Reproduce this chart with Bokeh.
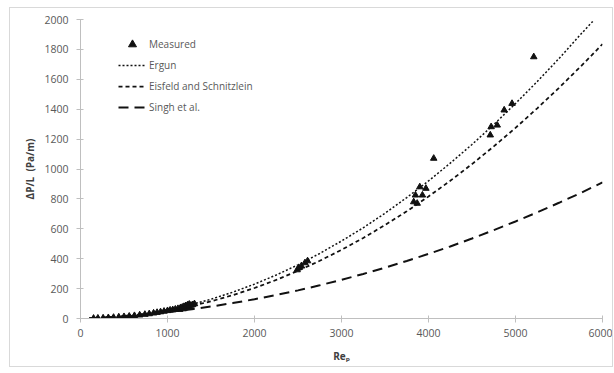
from bokeh.plotting import figure
from bokeh.models import Range1d, FixedTicker, Legend, LegendItem
from bokeh.embed import file_html
from bokeh.resources import INLINE

# Measured data (Re_p, dP/L in Pa/m)
meas_re = [150, 200, 260, 320, 380, 440, 500, 560, 620, 680, 740, 790, 840, 880, 920, 960,
           1000, 1030, 1060, 1090, 1120, 1140, 1150, 1170, 1180, 1190, 1200, 1210, 1220,
           1230, 1240, 1250, 1260, 1270, 1290, 1310,
           2490, 2510, 2540, 2580, 2610,
           3830, 3850, 3870, 3900, 3930, 3970,
           4060, 4710, 4720, 4790, 4870, 4960, 5210]
meas_dp = [1, 2, 3, 5, 7, 10, 12, 15, 19, 23, 27, 31, 36, 40, 44, 48,
           52, 56, 58, 62, 66, 60, 72, 75, 64, 80, 70, 85, 76,
           90, 82, 95, 72, 88, 92, 98,
           325, 340, 350, 372, 385,
           780, 825, 770, 880, 825, 870,
           1071, 1227, 1282, 1293, 1394, 1438, 1750]

# Correlation curves
curve_re = [100, 250, 500, 750, 1000, 1250, 1500, 1750, 2000, 2250, 2500, 2750, 3000,
            3250, 3500, 3750, 4000, 4250, 4500, 4750, 5000, 5250, 5500, 5750, 5900, 6000]
ergun = [1, 4, 14, 32, 58, 90, 129, 176, 230, 291, 359, 435, 518,
         607, 704, 809, 920, 1039, 1164, 1297, 1438, 1585, 1739, 1901, 1995, None]
eisfeld = [0.5, 3, 13, 29, 51, 80, 115, 156, 204, 258, 319, 386, 459,
           539, 625, 717, 816, 921, 1033, 1151, 1275, 1406, 1543, 1686, 1775, 1836]
singh = [2, 7, 16, 28, 43, 60, 80, 103, 129, 157, 188, 222, 259,
         298, 340, 385, 432, 482, 535, 591, 649, 710, 774, 840, 882, 910]

x_ticks = [0, 1000, 2000, 3000, 4000, 5000, 6000]
y_ticks = [0, 200, 400, 600, 800, 1000, 1200, 1400, 1600, 1800, 2000]

FONT = "Open Sans"
AXIS_COL = "#bfbfbf"
TEXT_COL = "#595959"

p = figure(width=604, height=360, output_backend="svg", toolbar_location=None,
           x_range=Range1d(0, 6000), y_range=Range1d(0, 2000),
           min_border_left=70, min_border_right=12, min_border_top=11, min_border_bottom=50)
p.styles = {"border": "1px solid #d9d9d9", "margin-left": "9px", "margin-top": "7px"}
p.outline_line_color = None
p.xgrid.visible = False
p.ygrid.visible = False

for ax in (p.xaxis[0], p.yaxis[0]):
    ax.axis_line_color = AXIS_COL
    ax.major_tick_line_color = AXIS_COL
    ax.minor_tick_line_color = None
    ax.major_tick_in = 3
    ax.major_tick_out = 4
    ax.major_label_text_font = FONT
    ax.major_label_text_font_size = "10.5px"
    ax.major_label_text_color = TEXT_COL
    ax.axis_label_text_font = FONT
    ax.axis_label_text_font_size = "10px"
    ax.axis_label_text_font_style = "bold"
    ax.axis_label_text_color = "#404040"

p.xaxis[0].ticker = FixedTicker(ticks=x_ticks)
p.yaxis[0].ticker = FixedTicker(ticks=y_ticks)
p.xaxis[0].major_label_standoff = 6
p.yaxis[0].major_label_standoff = 8
p.xaxis[0].axis_label = "Reₚ"
p.yaxis[0].axis_label = "ΔP/L\u00a0\u00a0(Pa/m)"
p.xaxis[0].axis_label_standoff = 9
p.yaxis[0].axis_label_standoff = 4

er_x = [r for r, v in zip(curve_re, ergun) if v is not None]
er_y = [v for v in ergun if v is not None]

r_meas = p.scatter(meas_re, meas_dp, marker="triangle", size=6.5, color="#111111")
r_erg = p.line(er_x, er_y, line_color="#111111", line_width=1.5, line_dash="2 2")
r_eis = p.line(curve_re, eisfeld, line_color="#111111", line_width=1.75, line_dash="4 3")
r_sin = p.line(curve_re, singh, line_color="#111111", line_width=2, line_dash="10 6")

legend = Legend(items=[
    LegendItem(label="Measured", renderers=[r_meas]),
    LegendItem(label="Ergun", renderers=[r_erg]),
    LegendItem(label="Eisfeld and Schnitzlein", renderers=[r_eis]),
    LegendItem(label="Singh et al.", renderers=[r_sin]),
], location=(38, 201))
legend.padding = 0
legend.margin = 0
legend.spacing = 1
legend.glyph_height = 20
legend.glyph_width = 28
legend.label_standoff = 3
legend.label_height = 20
legend.label_text_font = FONT
legend.label_text_font_size = "10px"
legend.label_text_color = TEXT_COL
legend.border_line_color = None
legend.background_fill_color = None
p.add_layout(legend, "center")

open("out.html", "w").write(file_html(p, INLINE))
